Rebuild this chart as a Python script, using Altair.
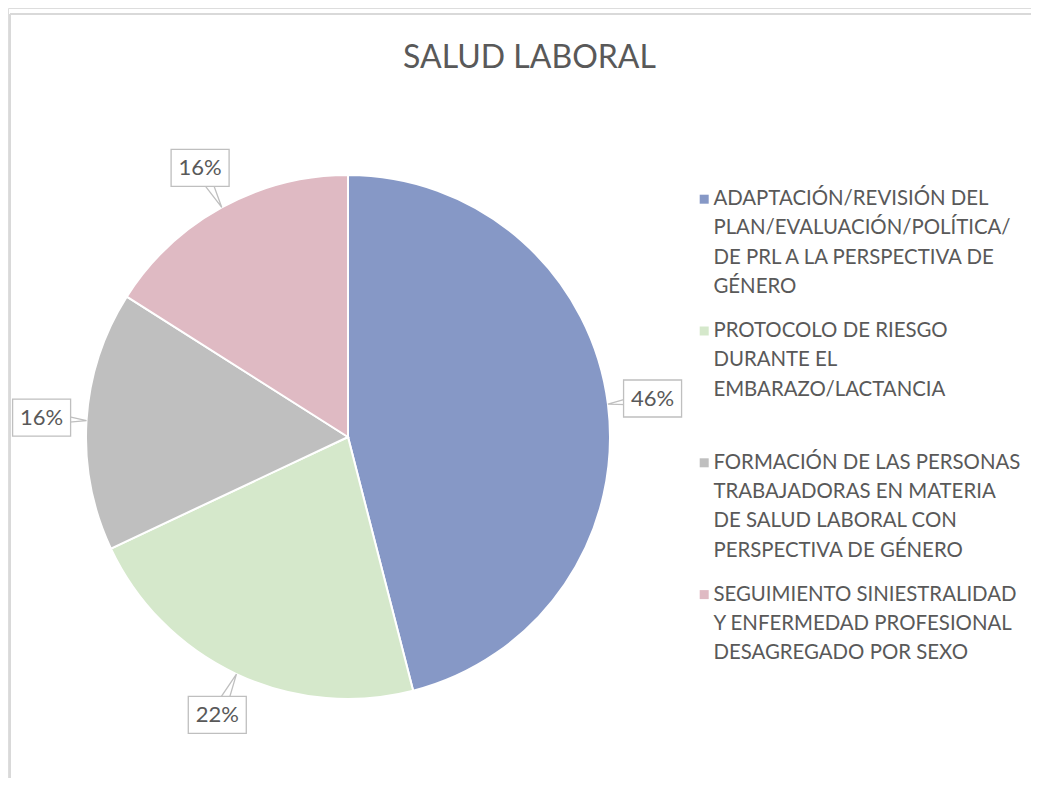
import altair as alt
import pandas as pd

# ---- data ----
categories = [
    "ADAPTACIÓN/REVISIÓN DEL|PLAN/EVALUACIÓN/POLÍTICA/|DE PRL A LA PERSPECTIVA DE|GÉNERO",
    "PROTOCOLO DE RIESGO|DURANTE EL|EMBARAZO/LACTANCIA",
    "FORMACIÓN DE LAS PERSONAS|TRABAJADORAS EN MATERIA|DE SALUD LABORAL CON|PERSPECTIVA DE GÉNERO",
    "SEGUIMIENTO SINIESTRALIDAD|Y ENFERMEDAD PROFESIONAL|DESAGREGADO POR SEXO",
]
values = [46, 22, 16, 16]
order = [0, 1, 2, 3]
colors = ["#8698C6", "#D5E8CB", "#BFBFBF", "#DFBAC3"]

df = pd.DataFrame({"cat": categories, "value": values, "order": order})

# ---- layout constants (pixels) ----
W, H = 1023, 770
CX, CY = 340, 429
R = 262
LR = 307
BW, BH = 58, 37
FONT = "Lato"
TXT = "#595959"

color = alt.Color(
    "cat:N",
    scale=alt.Scale(domain=categories, range=colors),
    sort=categories,
    legend=alt.Legend(
        title=None,
        orient="none",
        legendX=685,
        legendY=171,
        padding=0,
        labelExpr="split(datum.label, '|')",
        labelFont=FONT,
        labelFontSize=20.4,
        labelColor=TXT,
        labelLimit=500,
        labelBaseline="top",
        labelOffset=0,
        symbolType="M-0.7,1.1H1.1V2.9H-0.7Z",
        symbolSize=100,
        symbolStrokeWidth=0,
        gridAlign="all",
        columns=1,
        rowPadding=12.8,
    ),
)

base = alt.Chart(df)

pie = base.mark_arc(radius=R, x=CX, y=CY, stroke="white", strokeWidth=2).encode(
    theta=alt.Theta("value:Q", stack=True),
    color=color,
    order=alt.Order("order:Q"),
)

geo = base.transform_joinaggregate(total="sum(value)").transform_window(
    cum="sum(value)", sort=[alt.SortField("order")], frame=[None, 0]
).transform_calculate(
    mid="2*PI*(datum.cum - datum.value/2)/datum.total",
).transform_calculate(
    lx=f"{CX} + {LR}*sin(datum.mid)",
    ly=f"{CY} - {LR}*cos(datum.mid)",
    tipx=f"{CX} + {R}*sin(datum.mid)",
    tipy=f"{CY} - {R}*cos(datum.mid)",
    txt="datum.value + '%'",
)

pointer = geo.transform_calculate(k="sequence(0,3)").transform_flatten(["k"]).transform_calculate(
    px="datum.k == 1 ? datum.tipx : datum.lx + (datum.k - 1)*7*cos(datum.mid)",
    py="datum.k == 1 ? datum.tipy : datum.ly + (datum.k - 1)*7*sin(datum.mid)",
).mark_line(color="#BFBFBF", strokeWidth=1.3).encode(
    x=alt.X("px:Q", scale=None, axis=None),
    y=alt.Y("py:Q", scale=None, axis=None),
    detail="cat:N",
    order="k:Q",
)

boxes = geo.transform_calculate(
    bx1=f"datum.lx - {BW/2}", bx2=f"datum.lx + {BW/2}",
    by1=f"datum.ly - {BH/2}", by2=f"datum.ly + {BH/2}",
).mark_rect(fill="white", stroke="#BFBFBF", strokeWidth=1.3).encode(
    x=alt.X("bx1:Q", scale=None, axis=None),
    x2="bx2:Q",
    y=alt.Y("by1:Q", scale=None, axis=None),
    y2="by2:Q",
)

labels = geo.mark_text(font=FONT, fontSize=22, color=TXT, align="center", baseline="middle").encode(
    x=alt.X("lx:Q", scale=None, axis=None),
    y=alt.Y("ly:Q", scale=None, axis=None),
    text="txt:N",
)

border_top = base.mark_rule(color="#D9D9D9", strokeWidth=1.5).encode(
    x=alt.value(2), x2=alt.value(W), y=alt.value(6)
)
border_left = base.mark_rule(color="#D9D9D9", strokeWidth=1.5).encode(
    x=alt.value(2), y=alt.value(6), y2=alt.value(H)
)

chart = alt.layer(border_top, border_left, pie, pointer, boxes, labels).properties(
    width=W,
    height=H,
    autosize=alt.AutoSizeParams(type="none"),
    padding=0,
    title=alt.TitleParams(
        "SALUD LABORAL",
        font=FONT,
        fontSize=32,
        fontWeight="normal",
        color=TXT,
        anchor="middle",
        baseline="alphabetic",
        dx=10,
        dy=95.5,
    ),
).configure_view(stroke=None).configure(
    style={"guide-label": {"lineHeight": 29.3}}
)

chart.save("out.html", embed_options={"renderer": "svg", "actions": False})
